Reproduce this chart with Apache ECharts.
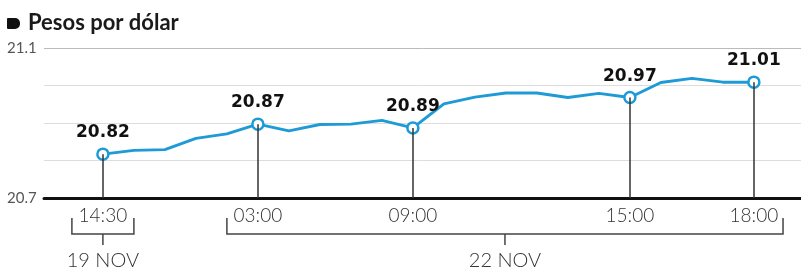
<!DOCTYPE html>
<html>
<head>
<meta charset="utf-8">
<script src="https://cdn.jsdelivr.net/npm/echarts@6/dist/echarts.min.js"></script>
<style>
html, body { margin: 0; padding: 0; background: #fff; }
#chart { width: 801px; height: 272px; }
</style>
</head>
<body>
<div id="chart"></div>
<script>
// tipo de cambio intradia, pesos por dolar
var rates = [20.817, 20.827, 20.829, 20.859, 20.871, 20.897, 20.879, 20.896, 20.897, 20.907, 20.887,
             20.951, 20.969, 20.980, 20.980, 20.968, 20.979, 20.968, 21.008, 21.019, 21.009, 21.009];
var markIdx = [0, 5, 10, 17, 21];
var markText = ['20.82', '20.87', '20.89', '20.97', '21.01'];
var tickLabels = ['14:30', '03:00', '09:00', '15:00', '18:00'];
var dayLabels = ['19 NOV', '22 NOV'];
var dayFrom = [-1, 4];
var dayTo = [1, 21.94];
var yShown = [20.7, 21.1];

var blue = '#1e9bd7';
var lightFont = 'Lato';

let myChart = echarts.init(document.getElementById('chart'));

let lineData = rates.map((v, i) => {
    let k = markIdx.indexOf(i);
    if (k < 0) {
        return { value: [i, v], symbol: 'none' };
    }
    return {
        value: [i, v],
        label: { show: true, formatter: markText[k] }
    };
});

myChart.setOption({
    animation: false,
    title: {
        text: 'Pesos por dólar',
        left: 23,
        top: 7,
        textStyle: { fontFamily: lightFont, fontSize: 22, fontWeight: 'bold', color: '#1a1a1a' }
    },
    grid: { left: 44, right: 0, top: 48, bottom: 74 },
    xAxis: {
        type: 'value',
        min: -1.9,
        max: 22.52,
        splitLine: { show: false },
        axisTick: { show: false },
        axisLine: { show: true, onZero: false, lineStyle: { color: '#111', width: 3 } },
        axisLabel: {
            customValues: markIdx,
            margin: 8,
            fontFamily: lightFont,
            fontSize: 19,
            fontWeight: 300,
            color: '#333',
            formatter: (v) => {
                let k = markIdx.indexOf(Math.round(v));
                return k < 0 ? '' : tickLabels[k];
            }
        }
    },
    yAxis: {
        type: 'value',
        min: 20.7,
        max: 21.1,
        interval: 0.1,
        axisLine: { show: false },
        axisTick: { show: false },
        splitLine: { lineStyle: { color: ['#ddd', '#ddd', '#ddd', '#ddd', '#bbb'], width: 1 } },
        axisLabel: {
            align: 'left',
            margin: 37,
            fontFamily: lightFont,
            fontSize: 15,
            color: '#555',
            formatter: (v) => {
                let hit = yShown.filter((t) => Math.abs(t - v) < 1e-6);
                return hit.length ? String(hit[0]) : '';
            }
        }
    },
    series: [
        {
            // lineas verticales hasta el eje
            type: 'line',
            z: 1,
            data: rates.map((v, i) => [i, v]),
            symbol: 'none',
            lineStyle: { opacity: 0 },
            markLine: {
                silent: true,
                symbol: 'none',
                label: { show: false },
                lineStyle: { color: '#333', width: 1.5, type: 'solid' },
                data: markIdx.map((i) => [{ coord: [i, rates[i]] }, { coord: [i, 20.7] }])
            }
        },
        {
            type: 'line',
            z: 3,
            data: lineData,
            symbol: 'circle',
            symbolSize: 11,
            showAllSymbol: true,
            lineStyle: { color: blue, width: 3 },
            itemStyle: { color: '#fff', borderColor: blue, borderWidth: 2.5 },
            label: {
                show: false,
                position: 'top',
                distance: 6,
                fontFamily: 'DejaVu Sans',
                fontSize: 17,
                fontWeight: 'bold',
                color: '#111'
            }
        }
    ]
});

// corchetes de fecha bajo el eje
let px = (v) => myChart.convertToPixel({ xAxisIndex: 0 }, v);
let graphics = [{
    type: 'rect',
    left: 7,
    top: 18,
    shape: { width: 13, height: 11, r: [1, 5, 5, 1] },
    style: { fill: '#111' }
}];
dayLabels.forEach((label, k) => {
    let x1 = px(dayFrom[k]);
    let x2 = px(dayTo[k]);
    let xc = (x1 + x2) / 2;
    graphics.push({
        type: 'polyline',
        shape: { points: [[x1, 218], [x1, 234], [x2, 234], [x2, 218]] },
        style: { stroke: '#444', lineWidth: 1.5, fill: null }
    });
    graphics.push({
        type: 'line',
        shape: { x1: xc, y1: 234, x2: xc, y2: 245 },
        style: { stroke: '#444', lineWidth: 1.5 }
    });
    graphics.push({
        type: 'text',
        x: xc,
        y: 261,
        style: {
            text: label,
            fontFamily: lightFont,
            fontSize: 20,
            fontWeight: 300,
            fill: '#333',
            align: 'center',
            verticalAlign: 'middle'
        }
    });
});
myChart.setOption({ graphic: graphics });
</script>
</body>
</html>
